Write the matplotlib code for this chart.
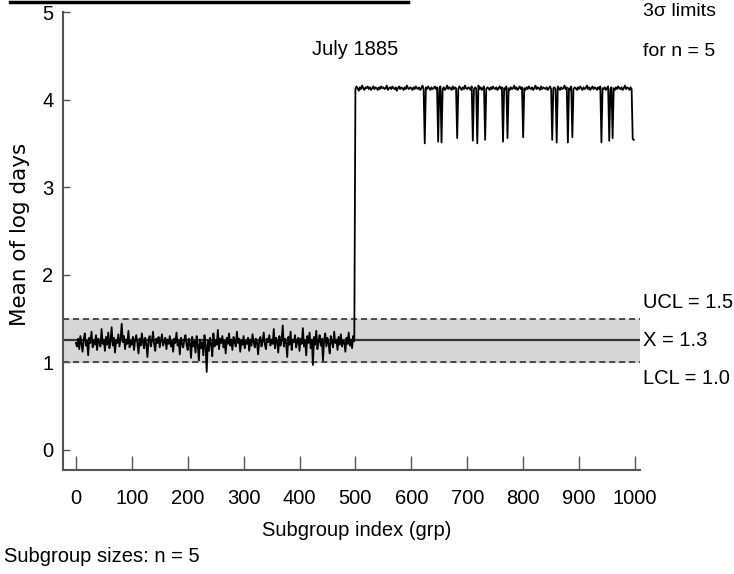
import matplotlib
matplotlib.use('Agg')
import matplotlib.pyplot as plt
from matplotlib.lines import Line2D
import numpy as np

# subgroup means, every second subgroup (index 0, 2, ..., 998)
before_jump = [
  1.22, 1.18, 1.27, 1.15, 1.30, 1.21, 1.12, 1.26, 1.33, 1.19, 1.24, 1.08, 1.28, 1.22, 1.35, 1.17, 1.25, 1.20, 1.31, 1.14, 1.27, 1.23, 1.18, 1.38, 1.21,
  1.26, 1.13, 1.29, 1.20, 1.34, 1.16, 1.24, 1.40, 1.19, 1.28, 1.11, 1.25, 1.22, 1.32, 1.18, 1.27, 1.44, 1.23, 1.30, 1.15, 1.26, 1.21, 1.36, 1.17, 1.24,
  1.20, 1.29, 1.14, 1.25, 1.31, 1.22, 1.10, 1.27, 1.19, 1.33, 1.23, 1.16, 1.28, 1.21, 1.06, 1.26, 1.30, 1.18, 1.24, 1.35, 1.20, 1.13, 1.27, 1.22, 1.29,
  1.17, 1.25, 1.32, 1.19, 1.23, 1.28, 1.15, 1.26, 1.21, 1.30, 1.18, 1.24, 1.12, 1.27, 1.22, 1.34, 1.19, 1.25, 1.09, 1.28, 1.21, 1.17, 1.26, 1.31, 1.20,
  1.14, 1.27, 1.22, 1.05, 1.29, 1.18, 1.24, 1.11, 1.30, 1.20, 1.02, 1.26, 1.16, 1.23, 1.08, 1.31, 1.19, 0.89, 1.25, 1.13, 1.28, 1.21, 1.07, 1.33, 1.18,
  1.25, 1.20, 1.37, 1.15, 1.27, 1.22, 1.30, 1.17, 1.24, 1.10, 1.28, 1.21, 1.33, 1.19, 1.26, 1.14, 1.29, 1.23, 1.18, 1.35, 1.22, 1.27, 1.12, 1.25, 1.20,
  1.30, 1.16, 1.24, 1.21, 1.28, 1.13, 1.26, 1.19, 1.32, 1.23, 1.17, 1.27, 1.22, 1.09, 1.25, 1.29, 1.18, 1.24, 1.34, 1.20, 1.15, 1.27, 1.23, 1.31, 1.19,
  1.26, 1.21, 1.38, 1.16, 1.28, 1.23, 1.11, 1.30, 1.19, 1.25, 1.42, 1.18, 1.27, 1.22, 1.06, 1.29, 1.20, 1.35, 1.14, 1.26, 1.23, 1.31, 1.17, 1.24, 1.28,
  1.13, 1.27, 1.21, 1.39, 1.18, 1.25, 1.08, 1.30, 1.22, 1.34, 1.16, 1.26, 0.97, 1.29, 1.20, 1.36, 1.15, 1.24, 1.31, 1.19, 1.27, 1.02, 1.25, 1.33, 1.18,
  1.28, 1.21, 1.10, 1.30, 1.24, 1.17, 1.35, 1.22, 1.26, 1.14, 1.29, 1.20, 1.32, 1.18, 1.25, 1.23, 1.12, 1.28, 1.21, 1.34, 1.19, 1.26, 1.16, 1.30, 1.24,
]
after_jump = [
  4.12, 4.15, 4.13, 4.10, 4.14, 4.12, 4.16, 4.13, 4.11, 4.14, 4.13, 4.15, 4.12, 4.14, 4.11, 4.13, 4.15, 4.12, 4.14, 4.13, 4.11, 4.14, 4.12, 4.15, 4.13,
  4.14, 4.12, 4.13, 4.16, 4.11, 4.13, 4.14, 4.12, 4.15, 4.13, 4.12, 4.14, 4.10, 4.13, 4.15, 4.12, 4.14, 4.13, 4.11, 4.14, 4.12, 4.16, 4.13, 4.12, 4.14,
  4.13, 4.11, 4.14, 4.12, 4.15, 4.13, 4.12, 4.14, 4.11, 4.13, 4.16, 4.12, 3.50, 4.14, 4.12, 4.15, 4.13, 4.11, 4.14, 4.12, 4.13, 4.15, 4.12, 4.14, 3.52,
  4.13, 4.15, 3.51, 4.12, 4.14, 4.11, 4.13, 4.16, 4.12, 4.14, 4.13, 4.11, 4.15, 4.12, 4.14, 4.13, 3.56, 4.12, 4.15, 4.13, 4.11, 4.14, 4.12, 4.16, 4.13,
  4.12, 4.14, 4.13, 4.11, 4.15, 3.53, 4.12, 4.14, 4.13, 3.50, 4.16, 4.12, 4.14, 4.11, 4.13, 4.15, 3.54, 4.12, 4.14, 4.13, 4.11, 4.14, 4.12, 4.15, 4.13,
  4.12, 4.14, 4.11, 4.13, 4.15, 4.12, 4.14, 3.52, 4.13, 4.12, 4.15, 3.56, 4.13, 4.11, 4.14, 4.12, 4.13, 4.16, 4.12, 4.14, 4.11, 4.13, 4.15, 4.12, 4.14,
  3.57, 4.13, 4.11, 4.14, 4.12, 4.15, 4.13, 4.12, 4.14, 4.11, 4.13, 4.16, 4.12, 4.14, 4.13, 4.11, 4.15, 4.12, 4.14, 4.13, 4.12, 4.14, 4.11, 4.13, 4.15,
  4.12, 3.54, 4.13, 4.14, 4.12, 3.51, 4.15, 4.13, 4.11, 4.14, 4.12, 4.13, 4.16, 4.12, 4.14, 3.51, 4.13, 4.11, 4.15, 3.57, 4.12, 4.14, 4.13, 4.11, 4.14,
  4.12, 4.15, 4.13, 4.11, 4.14, 4.12, 4.13, 4.16, 4.12, 4.14, 4.11, 4.13, 4.15, 4.12, 4.14, 4.13, 4.11, 4.14, 4.12, 4.15, 3.51, 4.13, 4.12, 4.14, 4.11,
  4.13, 4.15, 3.53, 4.12, 4.14, 3.56, 4.13, 4.11, 4.14, 4.12, 4.15, 4.13, 4.12, 4.14, 4.11, 4.13, 4.16, 4.12, 4.14, 4.13, 4.11, 4.14, 4.12, 3.55, 3.54,
]
subgroup_step = 2

# control limits (drawn) and their printed labels
ucl, centre, lcl = 1.5, 1.25, 1.0
limit_labels = ['UCL = 1.5', 'X = 1.3', 'LCL = 1.0']

x_ticks = list(range(0, 1001, 100))
y_ticks = [0, 1, 2, 3, 4, 5]

W, H = 734, 574
narrow = ['Liberation Sans', 'DejaVu Sans']

def fx(px):
  return px / W

def fy(py):
  return 1 - py / H

fig = plt.figure(figsize=(W / 100, H / 100), dpi=100)
ax = fig.add_axes([fx(63), fy(470), fx(640) - fx(63), fy(12) - fy(470)])

means = np.array(before_jump + after_jump)
index = np.arange(len(means)) * subgroup_step

ax.axhspan(lcl, ucl, color='#d6d6d6', zorder=0)
ax.axhline(ucl, color='#222222', lw=1.1, ls=(0, (4, 2.5)), zorder=1)
ax.axhline(lcl, color='#222222', lw=1.1, ls=(0, (4, 2.5)), zorder=1)
ax.axhline(centre, color='#333333', lw=1.6, zorder=1)
ax.plot(index, means, color='black', lw=1.3, zorder=2)

ax.set_xlim(-23, 1009)
ax.set_ylim(-0.23, 5.0)
ax.set_xticks(x_ticks)
ax.set_yticks(y_ticks)
for side in ('top', 'right'):
  ax.spines[side].set_visible(False)
for side in ('left', 'bottom'):
  ax.spines[side].set_color('#555555')
  ax.spines[side].set_linewidth(1.5)
ax.tick_params(axis='x', direction='in', length=10, width=1, color='#555555', pad=14)
ax.tick_params(axis='y', direction='in', length=5, width=1, color='#555555', pad=7)
for lab in ax.get_xticklabels() + ax.get_yticklabels():
  lab.set_family(narrow)
  lab.set_fontsize(14.5)

ax.text(500, 4.57, 'July 1885', ha='center', va='center', family=narrow, fontsize=14.5)

text_x = 1014
ax.text(text_x, 5.0, '3\u03c3 limits', ha='left', va='center', family=narrow, fontsize=14, clip_on=False)
ax.text(text_x, 4.55, 'for n = 5', ha='left', va='center', family=narrow, fontsize=14, clip_on=False)
for label, yv in zip(limit_labels, [1.68, 1.25, 0.82]):
  ax.text(text_x, yv, label, ha='left', va='center', family=narrow, fontsize=14.5, clip_on=False)

fig.text(fx(357), fy(531), 'Subgroup index (grp)', ha='center', va='center', family=narrow, fontsize=14.5)
fig.text(fx(4), fy(556), 'Subgroup sizes: n = 5', ha='left', va='center', family=narrow, fontsize=14.5)
fig.text(fx(20), fy(234), 'Mean of log days', ha='center', va='center', rotation=90, fontsize=15.5)

# black rule across the top left of the page
fig.add_artist(Line2D([fx(10), fx(408)], [fy(2), fy(2)], color='black', lw=2.5))

fig.savefig('out.png', dpi=100)
